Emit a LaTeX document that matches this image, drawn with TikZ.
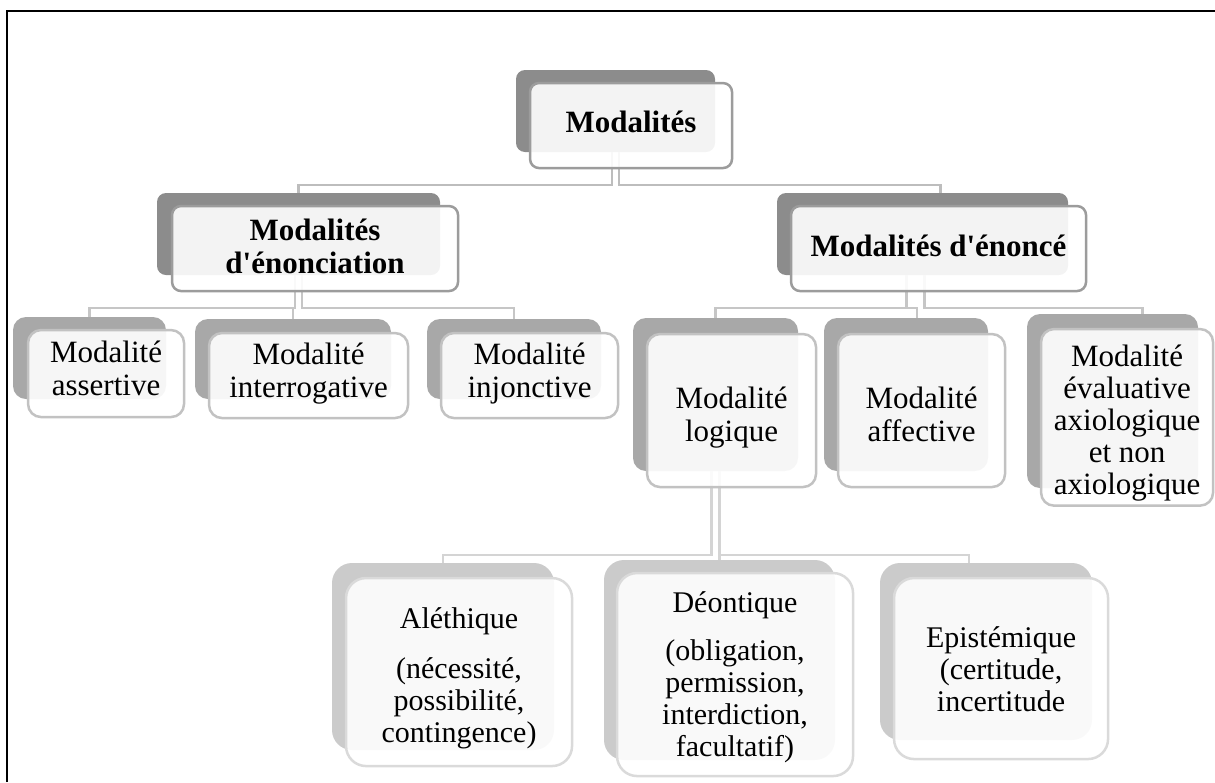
\documentclass[tikz,border=0pt]{standalone}
\usepackage{fontspec}
\setmainfont{Liberation Serif}
\usetikzlibrary{positioning,calc}
\definecolor{back1}{HTML}{8C8C8C}
\definecolor{back2}{HTML}{A8A8A8}
\definecolor{back3}{HTML}{CBCBCB}
\definecolor{line1}{HTML}{9C9C9C}
\definecolor{line2}{HTML}{C2C2C2}
\definecolor{line3}{HTML}{DADADA}
\definecolor{conn1}{HTML}{BDBDBD}
\definecolor{conn2}{HTML}{C6C6C6}
\definecolor{conn3}{HTML}{D4D4D4}
\newcommand{\drop}[1]{\rule{0pt}{#1}}

\begin{document}
\begin{tikzpicture}[x=1pt,y=-1pt]
\tikzstyle{shade1}=[fill=back1,rounded corners=9pt,inner sep=0pt]
\tikzstyle{shade2}=[fill=back2,rounded corners=13pt,inner sep=0pt]
\tikzstyle{shade3}=[fill=back3,rounded corners=20pt,inner sep=0pt]
\tikzstyle{box}=[anchor=north west,fill=white,fill opacity=0.9,text opacity=1,line width=2.5pt,align=center,inner sep=2pt,
  font=\fontsize{31}{33}\selectfont,execute at begin node=\strut,execute at end node=\strut]
\tikzstyle{box1}=[box,draw=line1,rounded corners=9pt,font=\fontsize{31}{33}\selectfont\bfseries]
\tikzstyle{box2}=[box,draw=line2,rounded corners=13pt]
\tikzstyle{box3}=[box,draw=line3,rounded corners=20pt,font=\fontsize{30}{32}\selectfont]
\tikzstyle{link1}=[draw=conn1,line width=2.5pt]
\tikzstyle{link2}=[draw=conn2,line width=2.5pt]
\tikzstyle{link3}=[draw=conn3,line width=2.5pt]

\useasboundingbox (0,0) rectangle (1215,782);
\draw[line width=2.5pt] (7,782) -- (7,11) -- (1215,11);

% shadow boxes
\node [shade1,minimum width=199,minimum height=82] (mod) at (615.5,111) {};
\node [shade1,minimum width=283,minimum height=82] (enon) at (298.5,234) {};
\node [shade1,minimum width=291,minimum height=82] (enonce) at (922.5,234) {};
\node [shade2,minimum width=153,minimum height=82] (assert) at (89.5,358) {};
\node [shade2,minimum width=196,minimum height=80] (interr) at (293,359) {};
\node [shade2,minimum width=174,minimum height=80] (injonc) at (514,359) {};
\node [shade2,minimum width=165,minimum height=153] (logiq) at (715.5,394.5) {};
\node [shade2,minimum width=164,minimum height=153] (affect) at (906,394.5) {};
\node [shade2,minimum width=171,minimum height=174] (evalu) at (1112.5,401) {};
\node [shade3,minimum width=222,minimum height=187] (alethi) at (443,656.5) {};
\node [shade3,minimum width=231,minimum height=200] (deont) at (719.5,660) {};
\node [shade3,minimum width=212,minimum height=177] (episte) at (986,651.5) {};

% connectors
\draw[link1] ([xshift=-3.5]mod.south) -- ++(0,33) -| (enon.north);
\draw[link1] ([xshift=3.5]mod.south) -- ++(0,33) -| ([xshift=18]enonce.north);
\draw[link2] ([xshift=-3.5]enon.south) -- ++(0,33) -| (assert.north);
\draw[link2] ([xshift=-3.5]enon.south) -- ++(0,33) -| (interr.north);
\draw[link2] ([xshift=3.5]enon.south) -- ++(0,33) -| (injonc.north);
\draw[link2] ([xshift=-16]enonce.south) -- ++(0,33) -| (logiq.north);
\draw[link2] ([xshift=-16]enonce.south) -- ++(0,33) -| ([xshift=11]affect.north);
\draw[link2] ([xshift=2]enonce.south) -- ++(0,33) -| ([xshift=30]evalu.north);
\draw[link3] ([xshift=-4]logiq.south) -- ++(0,84) -| (alethi.north);
\draw[link3] ([xshift=4]logiq.south) -- ++(0,84) -| (deont.north);
\draw[link3] ([xshift=4]logiq.south) -- ++(0,84) -| ([xshift=-17]episte.north);

% text boxes
\node [box1,minimum width=202,minimum height=85] (mod-t) at ($(mod.north west)+(13,12)$) {Modalités};
\node [box1,minimum width=286,minimum height=85] (enon-t) at ($(enon.north west)+(14,12)$) {\drop{27pt}Modalités\\d\textquotesingle énonciation};
\node [box1,minimum width=295,minimum height=85] (enonce-t) at ($(enonce.north west)+(13,12)$) {\drop{25pt}Modalités d\textquotesingle énoncé};
\node [box2,minimum width=156,minimum height=87] (assert-t) at ($(assert.north west)+(14,12)$) {Modalité\\assertive};
\node [box2,minimum width=199,minimum height=85] (interr-t) at ($(interr.north west)+(13,13)$) {Modalité\\interrogative};
\node [box2,minimum width=177,minimum height=85] (injonc-t) at ($(injonc.north west)+(13,13)$) {Modalité\\injonctive};
\node [box2,minimum width=169,minimum height=153] (logiq-t) at ($(logiq.north west)+(13,15)$) {\drop{39pt}Modalité\\logique};
\node [box2,minimum width=167,minimum height=153] (affect-t) at ($(affect.north west)+(13,15)$) {\drop{39pt}Modalité\\affective};
\node [box2,minimum width=172,minimum height=175,font=\fontsize{31}{32}\selectfont] (evalu-t) at ($(evalu.north west)+(13,14)$) {\drop{35pt}Modalité\\évaluative\\axiologique\\et non\\axiologique};
\node [box3,minimum width=226,minimum height=188] (alethi-t) at ($(alethi.north west)+(13,14)$) {\drop{37pt}Aléthique\\[18pt](nécessité,\\possibilité,\\contingence)};
\node [box3,minimum width=236,minimum height=203] (deont-t) at ($(deont.north west)+(12,12)$) {\drop{29pt}Déontique\\[16pt](obligation,\\permission,\\interdiction,\\facultatif)};
\node [box3,minimum width=214,minimum height=181] (episte-t) at ($(episte.north west)+(13,14)$) {\drop{31pt}Epistémique\\(certitude,\\incertitude};
\end{tikzpicture}
\end{document}
